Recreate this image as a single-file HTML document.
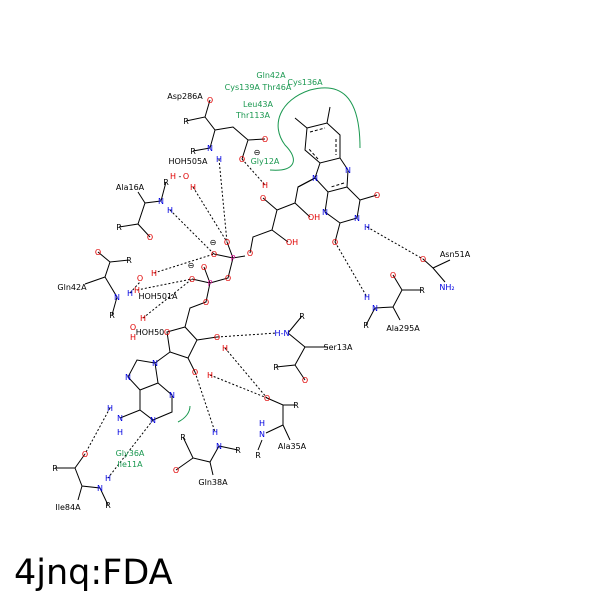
<!DOCTYPE html><html><head><style>body{margin:0;background:#fff}svg{display:block}text{font-family:"DejaVu Sans","Liberation Sans",sans-serif}</style></head><body>
<svg width="600" height="600" viewBox="0 0 600 600" xmlns="http://www.w3.org/2000/svg">
<g stroke="#000" stroke-width="1" fill="none">
<path d="M307,128 L327,123 L340,135 L340,158 L320,163 L305,150 Z"/>
<path d="M310,132 L325,128 M336,139 L336,155 M318,159 L308,148" stroke-dasharray="3,2"/>
<path d="M307,128 L295,118 M327,123 L330,107"/>
<path d="M340,158 L348,170 M347,187 L328,192 L315,178 L320,163 M347,187 L348,170"/>
<path d="M344,183 L331,187" stroke-dasharray="3,2"/>
<path d="M347,187 L360,200 L357,218 M360,200 L377,195 M357,218 L340,223 L325,212 L328,192 M340,223 L335,242"/>
<path d="M298,187 L315,178"/>
<path d="M315,178 L298,187 L295,203 L277,210 L272,230 L253,237 L250,253 M277,210 L263,198 M295,203 L310,217 M272,230 L288,242"/>
<path d="M245,256 L233,258 L227,242 M233,258 L214,254 M233,258 L228,278 L210,283 L204,267 M210,283 L192,279 M210,283 L206,302 L190,308 L185,327"/>
<path d="M185,327 L167,332 L170,352 L188,358 L197,340 Z M197,340 L217,337 M188,358 L195,372 M170,352 L155,363"/>
<path d="M155,363 L137,360 L128,377 L140,390 L158,383 Z M140,390 L140,410 L153,420 L172,412 L172,395 L158,383 M140,410 L120,418"/>
<path d="M210,100 L205,117 L186,121 M205,117 L215,130 L210,148 M215,130 L233,127 L248,140 L265,139 M248,140 L242,159 M210,148 L193,151"/>
<path d="M161,201 L145,203 L138,224 L119,227 M138,224 L150,237 M161,201 L166,182 M145,203 L138,192"/>
<path d="M98,252 L110,262 L129,260 M110,262 L105,277 L117,297 L112,315 M105,277 L85,284"/>
<path d="M288,333 L302,316 M288,333 L305,347 L328,347 M305,347 L295,365 L276,367 M295,365 L305,380"/>
<path d="M267,398 L283,405 L296,405 M283,405 L283,425 L266,433 M283,425 L290,440 M262,440 L258,450"/>
<path d="M219,446 L238,450 M219,446 L210,462 L193,458 L183,437 M193,458 L176,470 M210,462 L213,475"/>
<path d="M85,454 L75,468 L55,468 M75,468 L82,486 L100,488 L108,505 M82,486 L78,500"/>
<path d="M423,259 L433,268 L445,282 M433,268 L450,260"/>
<path d="M393,275 L402,290 L422,290 M402,290 L393,307 L375,308 L366,325 M393,307 L400,320"/>
</g>
<g stroke="#000" stroke-width="1" stroke-dasharray="2,2" fill="none">
<path d="M219,159 L227,242 M242,159 L265,185 M193,187 L227,242 M170,210 L214,254 M154,273 L214,254 M137,290 L192,279 M143,318 L192,279 M130,293 L140,282 M217,337 L277,333 M225,348 L267,398 M210,375 L267,398 M195,372 L215,432 M110,408 L85,454 M153,420 L108,478 M367,227 L423,259 M335,242 L367,297"/>
</g>
<path d="M270,170 C295,172 300,160 285,145 C270,125 280,100 310,90 C340,82 360,95 360,148" stroke="#1a9850" fill="none" stroke-width="1"/>
<path d="M178,422 C186,418 190,412 190,406" stroke="#1a9850" fill="none" stroke-width="1"/>
<g font-size="8" text-anchor="middle">
<g fill="#000">
<text x="185" y="99">Asp286A</text><text x="186" y="124">R</text><text x="193" y="154">R</text>
<text x="188" y="164">HOH505A</text><text x="130" y="190">Ala16A</text><text x="166" y="185">R</text>
<text x="119" y="230">R</text><text x="129" y="263">R</text><text x="72" y="290">Gln42A</text><text x="112" y="318">R</text>
<text x="158" y="299">HOH501A</text><text x="150" y="335">HOH50</text>
<text x="302" y="319">R</text><text x="338" y="350">Ser13A</text><text x="276" y="370">R</text>
<text x="296" y="408">R</text><text x="258" y="458">R</text><text x="292" y="449">Ala35A</text>
<text x="238" y="453">R</text><text x="183" y="440">R</text><text x="213" y="485">Gln38A</text>
<text x="55" y="471">R</text><text x="108" y="508">R</text><text x="68" y="510">Ile84A</text>
<text x="455" y="257">Asn51A</text><text x="422" y="293">R</text><text x="366" y="328">R</text><text x="403" y="331">Ala295A</text>
<text x="213" y="245">⊖</text><text x="191" y="268">⊖</text><text x="257" y="155">⊖</text>
<text x="180" y="179">-</text>
</g>
<g fill="#e00000">
<text x="210" y="103">O</text><text x="265" y="142">O</text><text x="242" y="162">O</text><text x="265" y="188">H</text>
<text x="263" y="201">O</text><text x="314" y="220">OH</text><text x="292" y="245">OH</text><text x="250" y="256">O</text>
<text x="227" y="245">O</text><text x="214" y="257">O</text><text x="228" y="281">O</text><text x="204" y="270">O</text><text x="192" y="282">O</text><text x="206" y="305">O</text>
<text x="167" y="335">O</text><text x="217" y="340">O</text><text x="225" y="351">H</text><text x="195" y="375">O</text><text x="210" y="378">H</text>
<text x="377" y="198">O</text><text x="335" y="245">O</text>
<text x="173" y="179">H</text><text x="186" y="179">O</text><text x="193" y="190">H</text><text x="150" y="240">O</text>
<text x="98" y="255">O</text><text x="154" y="276">H</text><text x="140" y="281">O</text><text x="137" y="293">H</text>
<text x="143" y="321">H</text><text x="133" y="330">O</text><text x="133" y="340">H</text>
<text x="305" y="383">O</text><text x="267" y="401">O</text><text x="176" y="473">O</text><text x="85" y="457">O</text>
<text x="423" y="262">O</text><text x="393" y="278">O</text>
</g>
<g fill="#0000e0">
<text x="210" y="151">N</text><text x="219" y="162">H</text><text x="161" y="204">N</text><text x="170" y="213">H</text>
<text x="117" y="300">N</text><text x="130" y="296">H</text><text x="282" y="336">H-N</text><text x="262" y="426">H</text><text x="262" y="437">N</text>
<text x="215" y="435">H</text><text x="219" y="449">N</text><text x="100" y="491">N</text><text x="108" y="481">H</text>
<text x="315" y="181">N</text><text x="348" y="173">N</text><text x="325" y="215">N</text><text x="357" y="221">N</text><text x="367" y="230">H</text>
<text x="155" y="366">N</text><text x="128" y="380">N</text><text x="172" y="398">N</text><text x="153" y="423">N</text>
<text x="120" y="421">N</text><text x="110" y="411">H</text><text x="120" y="435">H</text>
<text x="447" y="290">NH₂</text><text x="375" y="311">N</text><text x="367" y="300">H</text>
</g>
<text x="233" y="261" fill="#d0108f">P</text><text x="210" y="286" fill="#d0108f">P</text>
<g fill="#1a9850">
<text x="271" y="78">Gln42A</text><text x="258" y="90">Cys139A Thr46A</text><text x="305" y="85">Cys136A</text>
<text x="258" y="107">Leu43A</text><text x="253" y="118">Thr113A</text><text x="265" y="164">Gly12A</text>
<text x="130" y="456">Gly36A</text><text x="130" y="467">Ile11A</text>
</g>
</g>
<text x="14" y="584" font-size="35" fill="#000">4jnq:FDA</text>
</svg>
</body></html>
